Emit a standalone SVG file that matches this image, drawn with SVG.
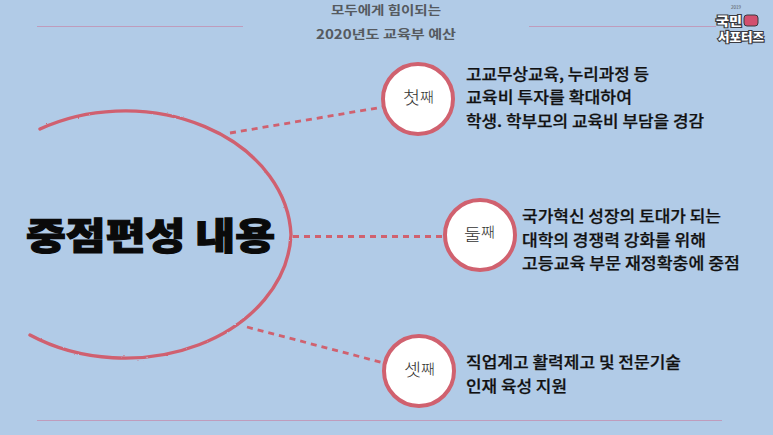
<svg xmlns="http://www.w3.org/2000/svg" width="773" height="435" viewBox="0 0 773 435">
<defs>
<filter id="rough" x="-5%" y="-5%" width="110%" height="110%">
<feTurbulence type="fractalNoise" baseFrequency="0.35" numOctaves="2" seed="4"/>
<feDisplacementMap in="SourceGraphic" scale="1.8"/>
</filter>
</defs>
<style>
text{font-family:"Noto Sans CJK KR","Noto Sans",sans-serif}
.rule{stroke:#bf9cbc;stroke-width:1.2;fill:none}
.arc{stroke:#d0616f;stroke-width:3.4;fill:none;stroke-linecap:round}
.dash{stroke:#d0616f;stroke-width:2.8;stroke-dasharray:6 5;fill:none}
.disc{fill:#fff;stroke:#d0616f;stroke-width:4}
.body{font-size:16px;font-weight:500;fill:#111;stroke:#111;stroke-width:.25}
.head{font-size:12.500px;font-weight:700;fill:#555a60}
.ord{fill:#333;font-weight:300}
.logo{font-weight:900;fill:#fff;stroke:#3a3a40;stroke-width:2.2;paint-order:stroke}
</style>
<rect width="773" height="435" fill="#b1cbe7"/>
<g id="rules">
<line class="rule" x1="37" y1="26.500" x2="243" y2="26.500"/>
<line class="rule" x1="529" y1="26.500" x2="716" y2="26.500"/>
<line class="rule" x1="37" y1="420.500" x2="722" y2="420.500"/>
</g>
<g id="header">
<text class="head" x="331" y="15" textLength="110" lengthAdjust="spacingAndGlyphs">모두에게 힘이되는</text>
<text class="head" x="316" y="39" textLength="140" lengthAdjust="spacingAndGlyphs">2020년도 교육부 예산</text>
</g>
<g id="logo">
<text x="731" y="9" font-size="4.500" fill="#555">2019</text>
<rect x="744" y="15" width="14" height="11" rx="3" fill="#d2506f" stroke="#3a3a40"/>
<text class="logo" x="716" y="26" font-size="12" textLength="26" lengthAdjust="spacingAndGlyphs">국민</text>
<text class="logo" x="718" y="42" font-size="12" textLength="46" lengthAdjust="spacingAndGlyphs">서포터즈</text>
</g>
<g id="connectors">
<line class="dash" x1="230" y1="133" x2="383" y2="107"/>
<line class="dash" x1="293" y1="236.500" x2="443" y2="236.500"/>
<line class="dash" x1="247" y1="327" x2="384" y2="363"/>
</g>
<g id="center">
<path class="arc" filter="url(#rough)" d="M40 129A166 128 0 0 1 291 235A166 128 0 0 1 30 335"/>
<text x="26" y="250" font-size="37" font-weight="900" fill="#0a0a0a" stroke="#0a0a0a" stroke-width="1.2" textLength="249" lengthAdjust="spacingAndGlyphs">중점편성 내용</text>
</g>
<g id="node-first">
<circle class="disc" cx="418" cy="99" r="35"/>
<text class="ord" x="403" y="104" textLength="31" lengthAdjust="spacingAndGlyphs"><tspan font-size="17">첫</tspan><tspan font-size="14" dy="-2">째</tspan></text>
</g>
<g id="node-first-label">
<text class="body" x="466" y="80" textLength="183" lengthAdjust="spacingAndGlyphs">고교무상교육, 누리과정 등</text>
<text class="body" x="466" y="103" textLength="166" lengthAdjust="spacingAndGlyphs">교육비 투자를 확대하여</text>
<text class="body" x="466" y="127" textLength="238" lengthAdjust="spacingAndGlyphs">학생. 학부모의 교육비 부담을 경감</text>
</g>
<g id="node-second">
<circle class="disc" cx="480" cy="235" r="35"/>
<text class="ord" x="464" y="241" textLength="31" lengthAdjust="spacingAndGlyphs"><tspan font-size="17">둘</tspan><tspan font-size="14" dy="-4">째</tspan></text>
</g>
<g id="node-second-label">
<text class="body" x="522" y="222" textLength="199" lengthAdjust="spacingAndGlyphs">국가혁신 성장의 토대가 되는</text>
<text class="body" x="522" y="246" textLength="184" lengthAdjust="spacingAndGlyphs">대학의 경쟁력 강화를 위해</text>
<text class="body" x="522" y="269" textLength="218" lengthAdjust="spacingAndGlyphs">고등교육 부문 재정확충에 중점</text>
</g>
<g id="node-third">
<circle class="disc" cx="419" cy="371" r="35"/>
<text class="ord" x="404" y="376" textLength="31" lengthAdjust="spacingAndGlyphs"><tspan font-size="17">셋</tspan><tspan font-size="14" dy="-2">째</tspan></text>
</g>
<g id="node-third-label">
<text class="body" x="466" y="368" textLength="215" lengthAdjust="spacingAndGlyphs">직업계고 활력제고 및 전문기술</text>
<text class="body" x="466" y="392" textLength="101" lengthAdjust="spacingAndGlyphs">인재 육성 지원</text>
</g>
</svg>
